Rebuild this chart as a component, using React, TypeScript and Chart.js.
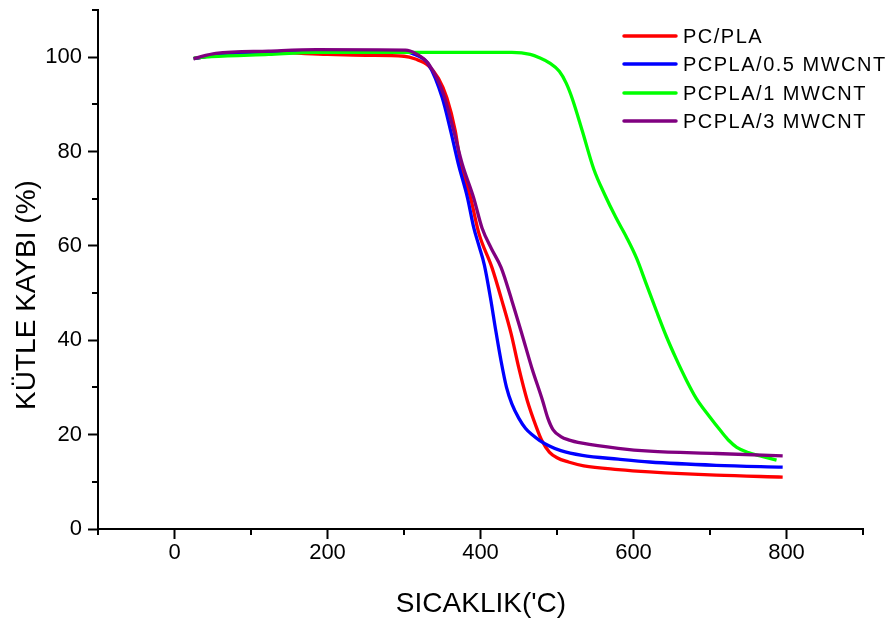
import React, { useEffect, useRef } from "react";
import { Chart, registerables } from "chart.js";

Chart.register(...registerables);

const seriesLabels = ["PC/PLA", "PCPLA/0.5 MWCNT", "PCPLA/1 MWCNT", "PCPLA/3 MWCNT"];
const seriesColors = ["#ff0000", "#0000ff", "#00ff00", "#800080"];

const tempPC = [25, 60, 120, 200, 250, 300, 315, 332, 345, 356, 367, 374, 387, 398, 415, 428, 440, 450, 461, 473, 480, 490, 500, 515, 535, 580, 621, 708, 795];
const massPC = [99.7, 100.6, 101.0, 100.6, 100.4, 100.2, 99.6, 98.2, 95.5, 91.4, 84.4, 77.4, 70.2, 62.6, 55.4, 48.4, 41.4, 34.2, 27.3, 21.6, 18.8, 16.3, 15.1, 14.2, 13.4, 12.6, 12.1, 11.4, 11.0];

const temp05 = [25, 60, 120, 200, 300, 315, 332, 350, 361, 371, 383, 391, 398, 405, 413, 420, 427, 434, 441, 450, 459, 468, 477, 490, 505, 533, 580, 621, 708, 795];
const mass05 = [99.7, 100.6, 101.1, 101.3, 101.2, 100.5, 98.5, 91.4, 84.4, 77.4, 70.2, 64.0, 60.0, 56.0, 49.0, 42.0, 35.5, 30.0, 26.5, 23.5, 21.3, 19.9, 18.8, 17.6, 16.6, 15.6, 14.8, 14.2, 13.5, 13.1];

const temp1 = [25, 48, 123, 185, 300, 441, 465, 477, 490, 503, 512, 520, 533, 548, 562, 577, 591, 604, 617, 630, 643, 656, 669, 682, 699, 715, 725, 735, 750, 768, 787];
const mass1 = [99.8, 100.1, 100.6, 101.0, 101.0, 101.0, 100.6, 99.9, 98.8, 97.0, 94.5, 91.2, 84.4, 76.3, 71.0, 66.0, 61.8, 57.4, 51.8, 46.2, 40.8, 36.0, 31.6, 27.7, 23.9, 20.6, 18.7, 17.3, 16.2, 15.4, 14.6];

const temp3 = [25, 54, 123, 185, 302, 315, 332, 352, 365, 376, 391, 402, 414, 427, 441, 454, 467, 481, 488, 495, 505, 515, 533, 580, 621, 708, 795];
const mass3 = [99.7, 100.8, 101.3, 101.6, 101.5, 100.8, 98.6, 92.0, 84.4, 77.4, 70.2, 63.8, 59.5, 55.4, 48.4, 41.4, 34.2, 27.3, 23.5, 21.0, 19.6, 18.9, 18.2, 17.1, 16.5, 16.0, 15.5];

const xTitle = "SICAKLIK('C)";
const yTitle = "KÜTLE KAYBI (%)";

const FONT = "'Liberation Sans', Arial, sans-serif";

const toPoints = (xs: number[], ys: number[]) => xs.map((x, i) => ({ x, y: ys[i] }));

const decorPlugin = {
  id: "decor",
  afterDraw(chart: any) {
    const ctx = chart.ctx;
    const xs = chart.scales.x;
    const ys = chart.scales.y;
    const area = chart.chartArea;
    ctx.save();
    // minor ticks
    ctx.strokeStyle = "#000";
    ctx.lineWidth = 2;
    for (let v = -100; v <= 900; v += 200) {
      const px = Math.round(xs.getPixelForValue(v));
      ctx.beginPath();
      ctx.moveTo(px, area.bottom);
      ctx.lineTo(px, area.bottom + 6);
      ctx.stroke();
    }
    for (let v = 10; v <= 110; v += 20) {
      const py = Math.round(ys.getPixelForValue(v));
      ctx.beginPath();
      ctx.moveTo(area.left, py);
      ctx.lineTo(area.left - 6, py);
      ctx.stroke();
    }
    // axis titles
    ctx.fillStyle = "#000";
    ctx.font = `28px ${FONT}`;
    ctx.textAlign = "center";
    ctx.textBaseline = "alphabetic";
    ctx.fillText(xTitle, 481, 612);
    ctx.save();
    ctx.translate(35, 295);
    ctx.rotate(-Math.PI / 2);
    ctx.fillText(yTitle, 0, 0);
    ctx.restore();
    // legend
    const rows = [36, 64, 93, 121];
    ctx.font = `20px ${FONT}`;
    ctx.textAlign = "left";
    try {
      (ctx as any).letterSpacing = "1.5px";
    } catch (e) {}
    chart.data.datasets.forEach((ds: any, i: number) => {
      const y = rows[i];
      ctx.strokeStyle = ds.borderColor;
      ctx.lineWidth = 3.5;
      ctx.lineCap = "round";
      ctx.beginPath();
      ctx.moveTo(624, y);
      ctx.lineTo(676, y);
      ctx.stroke();
      ctx.fillStyle = "#000";
      ctx.fillText(ds.label, 683, y + 7);
    });
    ctx.restore();
  },
};

export default function App() {
  const canvasRef = useRef<HTMLCanvasElement | null>(null);

  useEffect(() => {
    if (!canvasRef.current) return;
    const series = [
      toPoints(tempPC, massPC),
      toPoints(temp05, mass05),
      toPoints(temp1, mass1),
      toPoints(temp3, mass3),
    ];
    const orders = [3, 2, 1, 0];
    const chart = new Chart(canvasRef.current, {
      type: "line",
      data: {
        datasets: series.map((pts, i) => ({
          label: seriesLabels[i],
          data: pts,
          borderColor: seriesColors[i],
          backgroundColor: seriesColors[i],
          borderWidth: 3.3,
          pointRadius: 0,
          fill: false,
          cubicInterpolationMode: "monotone" as const,
          order: orders[i],
        })),
      },
      options: {
        animation: false,
        responsive: false,
        devicePixelRatio: 1,
        layout: { padding: { left: 0, right: 33, top: 10, bottom: 0 } },
        plugins: {
          legend: { display: false },
          tooltip: { enabled: false },
        },
        scales: {
          x: {
            type: "linear",
            min: -100,
            max: 900,
            afterFit(scale: any) {
              scale.height = 95;
              scale.paddingLeft = 0;
              scale.paddingRight = 0;
            },
            ticks: {
              stepSize: 100,
              autoSkip: false,
              maxRotation: 0,
              padding: 1,
              color: "#000",
              font: { family: FONT, size: 22 },
              callback: (v: any) => (Number(v) % 200 === 0 ? String(v) : ""),
            },
            grid: {
              display: true,
              drawOnChartArea: false,
              drawTicks: true,
              tickLength: 10,
              tickWidth: 2,
              tickColor: (c: any) => (c.tick && c.tick.value % 200 === 0 ? "#000" : "rgba(0,0,0,0)"),
            },
            border: { display: true, color: "#000", width: 2 },
          },
          y: {
            type: "linear",
            min: 0,
            max: 110,
            afterFit(scale: any) {
              scale.width = 98;
              scale.paddingTop = 0;
              scale.paddingBottom = 0;
            },
            ticks: {
              stepSize: 10,
              autoSkip: false,
              padding: 6,
              color: "#000",
              font: { family: FONT, size: 22 },
              callback: (v: any) => (Number(v) % 20 === 0 ? String(v) : ""),
            },
            grid: {
              display: true,
              drawOnChartArea: false,
              drawTicks: true,
              tickLength: 10,
              tickWidth: 2,
              tickColor: (c: any) => (c.tick && c.tick.value % 20 === 0 ? "#000" : "rgba(0,0,0,0)"),
            },
            border: { display: true, color: "#000", width: 2 },
          },
        },
      },
      plugins: [decorPlugin],
    });
    return () => chart.destroy();
  }, []);

  return (
    <div style={{ position: "absolute", left: 0, top: 0, width: 896, height: 624, background: "#fff" }}>
      <canvas ref={canvasRef} width={896} height={624} />
    </div>
  );
}
